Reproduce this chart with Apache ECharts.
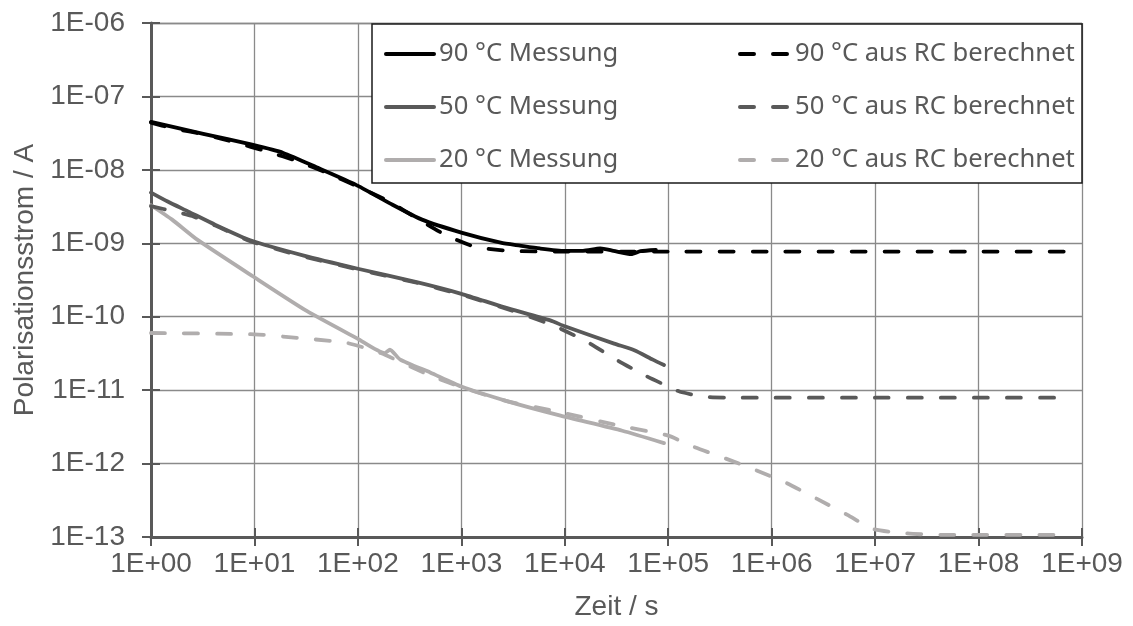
<!DOCTYPE html>
<html>
<head>
<meta charset="utf-8">
<title>Polarisationsstrom</title>
<script src="https://cdn.jsdelivr.net/npm/echarts@6/dist/echarts.min.js"></script>
<style>
    html, body {margin: 0; padding: 0; background: #fff;}
    #charts {width: 1133px; height: 626px;}
</style>
</head>
<body>
<div id="charts"></div>
<script>
// Zeit / s und Strom / A
var t90Mess = [1, 3.2, 9.5, 19, 42, 95, 204, 417, 1000, 2400, 3700, 5750, 1e4, 1.5e4, 2.2e4, 2.95e4, 4.4e4, 5.4e4, 7.6e4];
var i90Mess = [4.5e-8, 3.1e-8, 2.2e-8, 1.7e-8, 1.05e-8, 6.3e-9, 3.5e-9, 2.1e-9, 1.4e-9, 1.02e-9, 9.3e-10, 8.5e-10, 7.9e-10, 7.9e-10, 8.5e-10, 7.9e-10, 7.1e-10, 7.8e-10, 8.1e-10];

var t90RC = [1, 1.6, 3.4, 6.6, 12.9, 27, 52, 100, 200, 390, 710, 1380, 2900, 1e4, 1e5, 1e6, 1e7, 1e8, 8e8];
var i90RC = [4.4e-8, 3.7e-8, 3.0e-8, 2.35e-8, 1.8e-8, 1.29e-8, 8.9e-9, 5.9e-9, 3.7e-9, 2.1e-9, 1.29e-9, 8.9e-10, 7.9e-10, 7.7e-10, 7.7e-10, 7.7e-10, 7.7e-10, 7.7e-10, 7.7e-10];

var t50Mess = [1, 1.45, 2.3, 4.2, 9.1, 30, 100, 370, 1000, 2570, 7240, 1e4, 3e4, 4.7e4, 7.1e4, 9.1e4];
var i50Mess = [4.9e-9, 3.7e-9, 2.7e-9, 1.78e-9, 1.1e-9, 6.8e-10, 4.5e-10, 2.95e-10, 2.05e-10, 1.35e-10, 8.9e-11, 7.4e-11, 4.3e-11, 3.5e-11, 2.6e-11, 2.2e-11];

var t50RC = [1, 1.7, 2.5, 4.2, 9.1, 30, 100, 370, 1000, 2570, 7760, 1.66e4, 3.3e4, 6e4, 1e5, 1.3e5, 2.3e5, 4.3e5, 1e7, 8e8];
var i50RC = [3.2e-9, 2.7e-9, 2.35e-9, 1.74e-9, 1.07e-9, 6.6e-10, 4.4e-10, 2.9e-10, 2.0e-10, 1.32e-10, 7.6e-11, 4.5e-11, 2.5e-11, 1.58e-11, 1.12e-11, 9.5e-12, 8.1e-12, 7.9e-12, 7.9e-12, 7.9e-12];

var t20Mess = [1, 1.6, 2.8, 9.8, 32, 100, 182, 204, 257, 500, 1000, 2750, 9100, 3.6e4, 9.1e4];
var i20Mess = [3.3e-9, 2.1e-9, 1.12e-9, 3.5e-10, 1.2e-10, 5.0e-11, 3.2e-11, 3.55e-11, 2.6e-11, 1.74e-11, 1.12e-11, 7.1e-12, 4.5e-12, 2.8e-12, 1.9e-12];

var t20RC = [1, 10, 33, 78, 166, 500, 1170, 2750, 9100, 3.3e4, 1e5, 1.74e5, 3.6e5, 7.1e5, 1.4e6, 2.75e6, 5.4e6, 9.5e6, 2e7, 4.3e7, 8e8];
var i20RC = [6.0e-11, 5.75e-11, 5.0e-11, 4.4e-11, 3.2e-11, 1.58e-11, 1.02e-11, 7.1e-12, 5.0e-12, 3.3e-12, 2.4e-12, 1.7e-12, 1.17e-12, 8.1e-13, 5.4e-13, 3.3e-13, 2.0e-13, 1.29e-13, 1.12e-13, 1.07e-13, 1.07e-13];

var namesMess = ['90 °C Messung', '50 °C Messung', '20 °C Messung'];
var namesRC = ['90 °C aus RC berechnet', '50 °C aus RC berechnet', '20 °C aus RC berechnet'];

window.onload = function () {
    drawChart();
};

function zip(t, v) {
    var out = [];
    for (var i = 0; i < t.length; i++) {
        out.push([t[i], v[i]]);
    }
    return out;
}

function expLabel(v) {
    var e = Math.round(Math.log(v) / Math.LN10);
    var s = Math.abs(e) < 10 ? '0' + Math.abs(e) : '' + Math.abs(e);
    return '1E' + (e < 0 ? '-' : '+') + s;
}

function drawChart() {
    var myChart = echarts.init(document.getElementById('charts'));
    var grey = '#595959';
    var colors = ['#000000', '#595959', '#b0adad'];
    var dash = [14, 19];

    var series = [];
    var mess = [zip(t90Mess, i90Mess), zip(t50Mess, i50Mess), zip(t20Mess, i20Mess)];
    var rc = [zip(t90RC, i90RC), zip(t50RC, i50RC), zip(t20RC, i20RC)];
    for (var k = 0; k < 3; k++) {
        series.push({
            name: namesMess[k],
            type: 'line',
            symbol: 'none',
            smooth: 0.2,
            data: mess[k],
            z: 3 - k,
            lineStyle: {color: colors[k], width: 3.8, cap: 'round', join: 'round'},
            itemStyle: {color: colors[k]}
        });
    }
    for (var k = 0; k < 3; k++) {
        series.push({
            name: namesRC[k],
            type: 'line',
            symbol: 'none',
            smooth: 0.2,
            data: rc[k],
            z: 3 - k,
            lineStyle: {color: colors[k], width: 3.8, type: dash, cap: 'round', join: 'round'},
            itemStyle: {color: colors[k]}
        });
    }

    var legendText = {
        color: grey,
        fontFamily: 'Noto Sans',
        fontSize: 25.6,
        lineHeight: 26
    };

    var option = {
        animation: false,
        backgroundColor: '#ffffff',
        grid: {left: 151, right: 51, top: 23, bottom: 87},
        legend: [{
            data: namesMess,
            orient: 'vertical',
            left: 384,
            top: 41,
            padding: 0,
            itemWidth: 48,
            itemHeight: 14,
            itemGap: 27,
            z: 6,
            itemStyle: {opacity: 0},
            lineStyle: {width: 4, cap: 'round'},
            textStyle: legendText
        }, {
            data: namesRC,
            orient: 'vertical',
            left: 738,
            top: 41,
            padding: 0,
            itemWidth: 50,
            itemHeight: 14,
            itemGap: 27,
            z: 6,
            itemStyle: {opacity: 0},
            lineStyle: {width: 4, cap: 'round'},
            textStyle: legendText
        }],
        graphic: [{
            type: 'rect',
            z: 5,
            shape: {x: 372, y: 24, width: 710, height: 159},
            style: {fill: '#ffffff', stroke: '#1a1a1a', lineWidth: 1.5}
        }],
        xAxis: [{
            type: 'log',
            logBase: 10,
            min: 1,
            max: 1e9,
            splitNumber: 9,
            name: 'Zeit / s',
            nameLocation: 'middle',
            nameGap: 56,
            nameTextStyle: {color: grey, fontFamily: 'Liberation Sans', fontSize: 28},
            axisLine: {onZero: false, lineStyle: {color: grey, width: 3}},
            axisTick: {length: 9, lineStyle: {color: grey, width: 2}},
            axisLabel: {
                color: grey, fontFamily: 'Liberation Sans', fontSize: 28, margin: 13,
                formatter: expLabel
            },
            splitLine: {show: true, lineStyle: {color: '#8a8a8a', width: 1.3}}
        }, {
            type: 'log',
            logBase: 10,
            min: 1,
            max: 1e9,
            splitNumber: 9,
            position: 'bottom',
            axisLine: {show: false, onZero: false},
            axisTick: {inside: true, length: 9, lineStyle: {color: grey, width: 2}},
            axisLabel: {show: false},
            splitLine: {show: false}
        }],
        yAxis: [{
            type: 'log',
            logBase: 10,
            min: 1e-13,
            max: 1e-6,
            splitNumber: 7,
            name: 'Polarisationsstrom / A',
            nameLocation: 'middle',
            nameGap: 110,
            nameTextStyle: {color: grey, fontFamily: 'Liberation Sans', fontSize: 28},
            axisLine: {show: true, onZero: false, lineStyle: {color: grey, width: 3}},
            axisTick: {show: true, length: 9, lineStyle: {color: grey, width: 2}},
            axisLabel: {
                color: grey, fontFamily: 'Liberation Sans', fontSize: 28, margin: 26,
                formatter: expLabel
            },
            splitLine: {show: true, lineStyle: {color: '#8a8a8a', width: 1.3}}
        }, {
            type: 'log',
            logBase: 10,
            min: 1e-13,
            max: 1e-6,
            splitNumber: 7,
            position: 'left',
            axisLine: {show: false, onZero: false},
            axisTick: {show: true, inside: true, length: 9, lineStyle: {color: grey, width: 2}},
            axisLabel: {show: false},
            splitLine: {show: false}
        }],
        series: series
    };

    myChart.setOption(option);
    window.addEventListener('resize', function () {myChart.resize();});
}
</script>
</body>
</html>
